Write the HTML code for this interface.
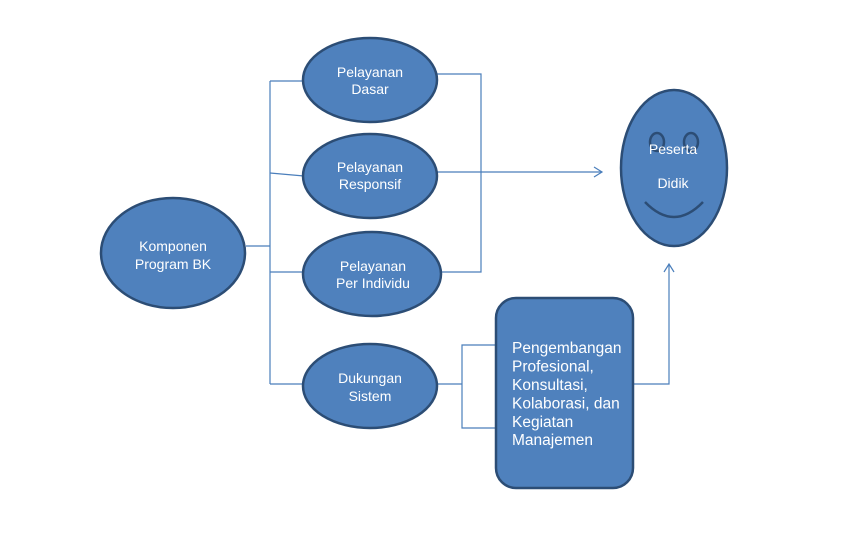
<!DOCTYPE html>
<html>
<head>
<meta charset="utf-8">
<style>
html,body{margin:0;padding:0;background:#fff;}
svg{display:block;}
text{font-family:"Liberation Sans",sans-serif;font-size:14px;fill:#fff;}
text.big{font-size:15.5px;}
</style>
</head>
<body>
<svg width="844" height="539" viewBox="0 0 844 539" xmlns="http://www.w3.org/2000/svg">
  <g fill="none" stroke="#4a7ebb" stroke-width="1.2">
    <!-- left tree -->
    <line x1="246" y1="246" x2="270" y2="246"/>
    <line x1="270" y1="81" x2="270" y2="384"/>
    <line x1="270" y1="81" x2="304" y2="81"/>
    <line x1="270" y1="173" x2="304" y2="176"/>
    <line x1="270" y1="272" x2="304" y2="272"/>
    <line x1="270" y1="384" x2="304" y2="384"/>
    <!-- right bracket -->
    <polyline points="436,74 481,74 481,272 440,272"/>
    <!-- arrow to face -->
    <line x1="437" y1="172" x2="602" y2="172"/>
    <polyline points="594,167 602,172 594,177"/>
    <!-- dukungan to rect -->
    <line x1="436" y1="384" x2="462" y2="384"/>
    <polyline points="496,345 462,345 462,428 496,428"/>
    <!-- rect to face -->
    <polyline points="633,384 669,384 669,264"/>
    <polyline points="664,272 669,264 674,272"/>
  </g>

  <g fill="#4f81bd" stroke="#2c4d75" stroke-width="2.5">
    <ellipse cx="173" cy="253" rx="72" ry="55"/>
    <ellipse cx="370" cy="80" rx="67" ry="42"/>
    <ellipse cx="370" cy="176" rx="67" ry="42"/>
    <ellipse cx="372" cy="274" rx="69" ry="42"/>
    <ellipse cx="370" cy="386" rx="67" ry="42"/>
    <rect x="496" y="298" width="137" height="190" rx="20" ry="20"/>
    <ellipse cx="674" cy="168" rx="53" ry="78"/>
  </g>

  <!-- face features -->
  <g fill="#4a78b0" stroke="#2c4d75" stroke-width="2.5">
    <ellipse cx="657" cy="142" rx="7" ry="9"/>
    <ellipse cx="691" cy="142" rx="7" ry="9"/>
  </g>
  <path d="M645,202 Q674,232 703,202" fill="none" stroke="#2c4d75" stroke-width="2.5"/>

  <g text-anchor="middle">
    <text x="173" y="251">Komponen</text>
    <text x="173" y="269">Program BK</text>
    <text x="370" y="77">Pelayanan</text>
    <text x="370" y="94">Dasar</text>
    <text x="370" y="172">Pelayanan</text>
    <text x="370" y="189">Responsif</text>
    <text x="373" y="271">Pelayanan</text>
    <text x="373" y="288">Per Individu</text>
    <text x="370" y="383">Dukungan</text>
    <text x="370" y="401">Sistem</text>
    <text x="673" y="154">Peserta</text>
    <text x="673" y="188">Didik</text>
  </g>
  <g>
    <text class="big" x="512" y="353">Pengembangan</text>
    <text class="big" x="512" y="371.5">Profesional,</text>
    <text class="big" x="512" y="390">Konsultasi,</text>
    <text class="big" x="512" y="408.5">Kolaborasi, dan</text>
    <text class="big" x="512" y="427">Kegiatan</text>
    <text class="big" x="512" y="445">Manajemen</text>
  </g>
</svg>
</body>
</html>
